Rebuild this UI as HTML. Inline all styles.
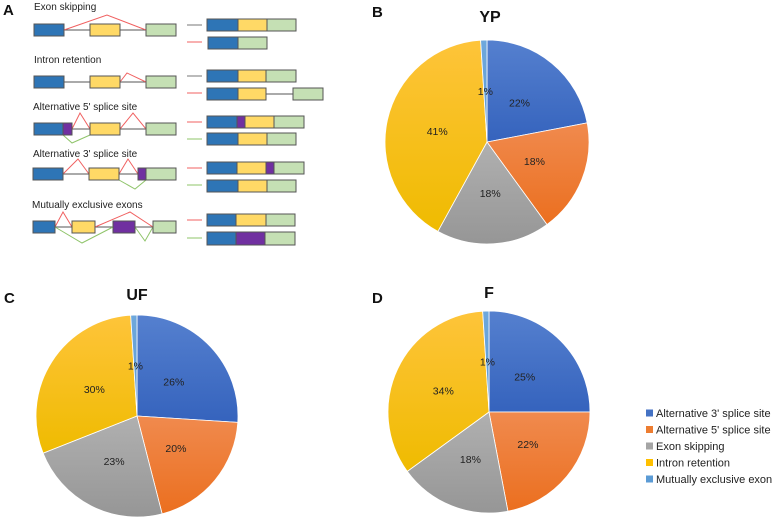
<!DOCTYPE html>
<html><head><meta charset="utf-8"><style>
html,body{margin:0;padding:0;background:#fff;}
svg{display:block;font-family:"Liberation Sans",sans-serif;}
</style></head><body>
<svg id="fig" width="784" height="518" viewBox="0 0 784 518">
<defs>
<linearGradient id="gBlue" x1="0" y1="0" x2="0" y2="1"><stop offset="0" stop-color="#5580cf"/><stop offset="1" stop-color="#3563bd"/></linearGradient>
<linearGradient id="gOrange" x1="0" y1="0" x2="0" y2="1"><stop offset="0" stop-color="#f08a4e"/><stop offset="1" stop-color="#eb6f1f"/></linearGradient>
<linearGradient id="gGray" x1="0" y1="0" x2="0" y2="1"><stop offset="0" stop-color="#b0b0b0"/><stop offset="1" stop-color="#969696"/></linearGradient>
<linearGradient id="gYellow" x1="0" y1="0" x2="0" y2="1"><stop offset="0" stop-color="#fec43a"/><stop offset="1" stop-color="#efbb00"/></linearGradient>
<linearGradient id="gLight" x1="0" y1="0" x2="0" y2="1"><stop offset="0" stop-color="#6fa8dc"/><stop offset="1" stop-color="#5b9bd5"/></linearGradient>
</defs>

<g id="panelA" stroke="#555" stroke-width="1">
<text x="3" y="15" font-size="15" font-weight="bold" stroke="none" fill="#111">A</text>
<g font-size="10" fill="#222" stroke="none">
<text x="34" y="10">Exon skipping</text>
<text x="34" y="63">Intron retention</text>
<text x="33" y="110">Alternative 5' splice site</text>
<text x="33" y="157">Alternative 3' splice site</text>
<text x="32" y="208">Mutually exclusive exons</text>
</g>
<g fill="none">
<line x1="64" y1="30" x2="90" y2="30"/><line x1="120" y1="30" x2="146" y2="30"/>
<polyline points="64,30 107,15 146,30" stroke="#f06060"/>
<line x1="64" y1="82" x2="90" y2="82"/><line x1="120" y1="82" x2="146" y2="82"/>
<polyline points="120,82 127,73 146,82" stroke="#f06060"/>
<line x1="72" y1="129" x2="90" y2="129"/><line x1="120" y1="129" x2="146" y2="129"/>
<polyline points="72,129 80,113 90,129" stroke="#f06060"/><polyline points="120,129 133,113 146,129" stroke="#f06060"/>
<polyline points="63,135 72,143 90,135" stroke="#8fc46a"/>
<line x1="63" y1="174" x2="89" y2="174"/><line x1="119" y1="174" x2="138" y2="174"/>
<polyline points="63,174 78,159 89,174" stroke="#f06060"/><polyline points="119,174 128,159 138,174" stroke="#f06060"/>
<polyline points="119,180 135,189 146,180" stroke="#8fc46a"/>
<line x1="55" y1="227" x2="72" y2="227"/><line x1="95" y1="227" x2="113" y2="227"/><line x1="135" y1="227" x2="153" y2="227"/>
<polyline points="55,227 63,212 72,227" stroke="#f06060"/><polyline points="95,227 130,212 153,227" stroke="#f06060"/>
<polyline points="55,227 82,243 113,227" stroke="#8fc46a"/><polyline points="135,227 145,241 153,227" stroke="#8fc46a"/>
<line x1="266" y1="94" x2="293" y2="94"/>
</g>
<g>
<rect x="34" y="24" width="30" height="12" fill="#2e75b6"/><rect x="90" y="24" width="30" height="12" fill="#ffd966"/><rect x="146" y="24" width="30" height="12" fill="#c5e0b4"/>
<rect x="34" y="76" width="30" height="12" fill="#2e75b6"/><rect x="90" y="76" width="30" height="12" fill="#ffd966"/><rect x="146" y="76" width="30" height="12" fill="#c5e0b4"/>
<rect x="34" y="123" width="29" height="12" fill="#2e75b6"/><rect x="63" y="123" width="9" height="12" fill="#7030a0"/><rect x="90" y="123" width="30" height="12" fill="#ffd966"/><rect x="146" y="123" width="30" height="12" fill="#c5e0b4"/>
<rect x="33" y="168" width="30" height="12" fill="#2e75b6"/><rect x="89" y="168" width="30" height="12" fill="#ffd966"/><rect x="138" y="168" width="8" height="12" fill="#7030a0"/><rect x="146" y="168" width="30" height="12" fill="#c5e0b4"/>
<rect x="33" y="221" width="22" height="12" fill="#2e75b6"/><rect x="72" y="221" width="23" height="12" fill="#ffd966"/><rect x="113" y="221" width="22" height="12" fill="#7030a0"/><rect x="153" y="221" width="23" height="12" fill="#c5e0b4"/>
</g>
<g>
<line x1="187" y1="25" x2="202" y2="25" stroke="#777"/><line x1="187" y1="42" x2="202" y2="42" stroke="#f06060"/>
<rect x="207" y="19" width="31" height="12" fill="#2e75b6"/><rect x="238" y="19" width="29" height="12" fill="#ffd966"/><rect x="267" y="19" width="29" height="12" fill="#c5e0b4"/>
<rect x="208" y="37" width="30" height="12" fill="#2e75b6"/><rect x="238" y="37" width="29" height="12" fill="#c5e0b4"/>
<line x1="187" y1="76" x2="202" y2="76" stroke="#777"/><line x1="187" y1="93" x2="202" y2="93" stroke="#f06060"/>
<rect x="207" y="70" width="31" height="12" fill="#2e75b6"/><rect x="238" y="70" width="28" height="12" fill="#ffd966"/><rect x="266" y="70" width="30" height="12" fill="#c5e0b4"/>
<rect x="207" y="88" width="31" height="12" fill="#2e75b6"/><rect x="238" y="88" width="28" height="12" fill="#ffd966"/><rect x="293" y="88" width="30" height="12" fill="#c5e0b4"/>
<line x1="187" y1="122" x2="202" y2="122" stroke="#f06060"/><line x1="187" y1="139" x2="202" y2="139" stroke="#8fc46a"/>
<rect x="207" y="116" width="30" height="12" fill="#2e75b6"/><rect x="237" y="116" width="8" height="12" fill="#7030a0"/><rect x="245" y="116" width="29" height="12" fill="#ffd966"/><rect x="274" y="116" width="30" height="12" fill="#c5e0b4"/>
<rect x="207" y="133" width="31" height="12" fill="#2e75b6"/><rect x="238" y="133" width="29" height="12" fill="#ffd966"/><rect x="267" y="133" width="29" height="12" fill="#c5e0b4"/>
<line x1="187" y1="168" x2="202" y2="168" stroke="#f06060"/><line x1="187" y1="185" x2="202" y2="185" stroke="#8fc46a"/>
<rect x="207" y="162" width="30" height="12" fill="#2e75b6"/><rect x="237" y="162" width="29" height="12" fill="#ffd966"/><rect x="266" y="162" width="8" height="12" fill="#7030a0"/><rect x="274" y="162" width="30" height="12" fill="#c5e0b4"/>
<rect x="207" y="180" width="31" height="12" fill="#2e75b6"/><rect x="238" y="180" width="29" height="12" fill="#ffd966"/><rect x="267" y="180" width="29" height="12" fill="#c5e0b4"/>
<line x1="187" y1="220" x2="202" y2="220" stroke="#f06060"/><line x1="187" y1="238" x2="202" y2="238" stroke="#8fc46a"/>
<rect x="207" y="214" width="29" height="12" fill="#2e75b6"/><rect x="236" y="214" width="30" height="12" fill="#ffd966"/><rect x="266" y="214" width="29" height="12" fill="#c5e0b4"/>
<rect x="207" y="232" width="29" height="13" fill="#2e75b6"/><rect x="236" y="232" width="29" height="13" fill="#7030a0"/><rect x="265" y="232" width="30" height="13" fill="#c5e0b4"/>
</g>
</g>

<g font-weight="bold" fill="#111" font-size="15">
<text x="372" y="17">B</text>
<text x="4" y="303">C</text>
<text x="372" y="303">D</text>
</g>
<g font-weight="bold" fill="#111" font-size="16" text-anchor="middle">
<text x="490" y="22">YP</text>
<text x="137" y="300">UF</text>
<text x="489" y="298">F</text>
</g>
<g id="pies"></g>

<g id="legend" font-size="11" fill="#222"></g>
</svg>
<script>
const categories = ["Alternative 3' splice site","Alternative 5' splice site","Exon skipping","Intron retention","Mutually exclusive exon"];
const ypValues = [22, 18, 18, 41, 1];
const ufValues = [26, 20, 23, 30, 1];
const fValues = [25, 22, 18, 34, 1];
const fills = ["url(#gBlue)","url(#gOrange)","url(#gGray)","url(#gYellow)","url(#gLight)"];
const legendColors = ["#4472c4","#ed7d31","#a5a5a5","#ffc000","#5b9bd5"];
const NS = "http://www.w3.org/2000/svg";
const pies = document.getElementById('pies');
function drawPie(name, values, cx, cy, r) {
  const g = document.createElementNS(NS, 'g');
  
  
  const total = values.reduce((a, b) => a + b, 0);
  let a0 = 0;
  values.forEach((v, i) => {
    const a1 = a0 + v / total * 2 * Math.PI;
    const x0 = cx + r * Math.sin(a0), y0 = cy - r * Math.cos(a0);
    const x1 = cx + r * Math.sin(a1), y1 = cy - r * Math.cos(a1);
    const large = (a1 - a0) > Math.PI ? 1 : 0;
    const p = document.createElementNS(NS, 'path');
    p.setAttribute('d', `M${cx},${cy} L${x0},${y0} A${r},${r} 0 ${large} 1 ${x1},${y1} Z`);
    p.setAttribute('fill', fills[i]);
    p.setAttribute('stroke', '#fff');
    p.setAttribute('stroke-width', '0.8');
    
    
    g.appendChild(p);
    const am = (a0 + a1) / 2;
    const t = document.createElementNS(NS, 'text');
    t.setAttribute('x', cx + r * 0.5 * Math.sin(am));
    t.setAttribute('y', cy - r * 0.5 * Math.cos(am) + 4);
    t.setAttribute('text-anchor', 'middle');
    t.setAttribute('font-size', '10.5');
    t.setAttribute('fill', '#222');
    t.textContent = v + '%';
    
    
    g.appendChild(t);
    a0 = a1;
  });
  pies.appendChild(g);
}
drawPie('yp', ypValues, 487, 142, 102);
drawPie('uf', ufValues, 137, 416, 101);
drawPie('f', fValues, 489, 412, 101);
const leg = document.getElementById('legend');
categories.forEach((c, i) => {
  const y = 413 + i * 16.5;
  const r = document.createElementNS(NS, 'rect');
  r.setAttribute('x', 646); r.setAttribute('y', y - 3.5);
  r.setAttribute('width', 7); r.setAttribute('height', 7);
  r.setAttribute('fill', legendColors[i]);
  
  
  leg.appendChild(r);
  const t = document.createElementNS(NS, 'text');
  t.setAttribute('x', 656); t.setAttribute('y', y + 4);
  t.textContent = c;
  
  
  leg.appendChild(t);
});
</script>
</body></html>
